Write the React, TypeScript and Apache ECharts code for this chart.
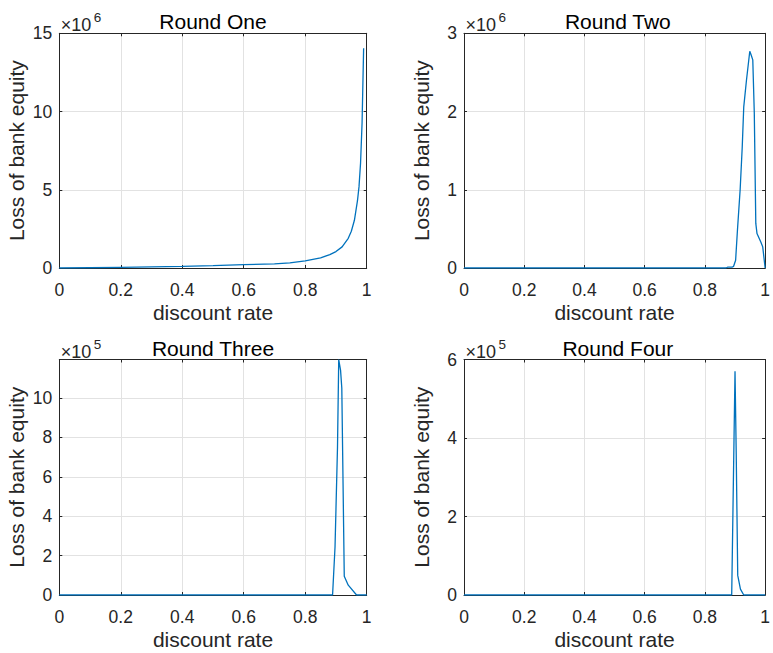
import React, { useEffect, useRef } from "react";
import * as echarts from "echarts";

// Discount rate (x) and loss of bank equity (y, in units of the panel's ×10^n factor)
const round1Rate = [0, 0.1, 0.2, 0.3, 0.4, 0.5, 0.6, 0.7, 0.75, 0.8, 0.85, 0.88, 0.9, 0.92, 0.94, 0.95, 0.96, 0.97, 0.975, 0.98, 0.985, 0.99];
const round1Loss = [0, 0.015, 0.04, 0.07, 0.1, 0.15, 0.21, 0.27, 0.33, 0.45, 0.65, 0.86, 1.05, 1.35, 1.9, 2.35, 3.05, 4.3, 5.2, 6.7, 9.3, 14.05];

const round2Rate = [0, 0.87, 0.875, 0.89, 0.895, 0.902, 0.908, 0.917, 0.924, 0.929, 0.938, 0.949, 0.953, 0.959, 0.964, 0.969, 0.973, 0.986, 0.992, 1.0];
const round2Loss = [0, 0, 0.01, 0.01, 0.02, 0.1, 0.48, 1.0, 1.55, 2.06, 2.4, 2.77, 2.73, 2.66, 1.98, 0.57, 0.44, 0.33, 0.27, 0];

const round3Rate = [0, 0.889, 0.897, 0.905, 0.909, 0.915, 0.919, 0.927, 0.94, 0.967, 1.0];
const round3Loss = [0, 0, 2.45, 7.5, 11.95, 11.4, 10.5, 0.95, 0.5, 0, 0];

const round4Rate = [0, 0.889, 0.9, 0.904, 0.909, 0.918, 0.929, 1.0];
const round4Loss = [0, 0, 5.7, 3.6, 0.5, 0.15, 0, 0];

const titles = ["Round One", "Round Two", "Round Three", "Round Four"];
const exponents = ["6", "6", "5", "5"];
const yMaxes = [15, 3, 11.95, 6];
const yIntervals = [5, 1, 2, 2];

const rates = [round1Rate, round2Rate, round3Rate, round4Rate];
const losses = [round1Loss, round2Loss, round3Loss, round4Loss];

const xLabel = "discount rate";
const yLabel = "Loss of bank equity";

// Panel boxes in pixels
const layout = [
  { left: 59.3, top: 33.3, width: 307.4, height: 234.7 },
  { left: 464, top: 33.3, width: 307.7, height: 234.7 },
  { left: 59.3, top: 359.5, width: 307.4, height: 235.5 },
  { left: 464, top: 359.5, width: 307.7, height: 235.5 },
];

const FONT = "'Liberation Sans', Arial, Helvetica, sans-serif";
const INK = "#262626";
const GRID = "#e2e2e2";
const LINE = "#0072BD";

export default function App() {
  const ref = useRef<HTMLDivElement>(null);

  useEffect(() => {
    if (!ref.current) return;
    const chart = echarts.init(ref.current, undefined, { renderer: "svg" });

    const grids: any[] = [];
    const xAxes: any[] = [];
    const yAxes: any[] = [];
    const series: any[] = [];
    const graphics: any[] = [];

    layout.forEach((box, i) => {
      grids.push({ left: box.left, top: box.top, width: box.width, height: box.height, containLabel: false });

      const lineStyle = { color: INK, width: 1 };
      const tick = { show: true, inside: true, length: 3, lineStyle: { color: INK, width: 1 } };

      xAxes.push({
        type: "value",
        gridIndex: i,
        position: "bottom",
        min: 0,
        max: 1,
        interval: 0.2,
        axisLine: { show: true, onZero: false, lineStyle },
        axisTick: tick,
        axisLabel: { color: INK, fontSize: 17.5, fontFamily: FONT, margin: 13 },
        splitLine: { show: true, lineStyle: { color: GRID, width: 1 } },
        name: xLabel,
        nameLocation: "middle",
        nameGap: 34,
        nameTextStyle: { color: INK, fontSize: 21, fontFamily: FONT },
      });
      xAxes.push({
        type: "value",
        gridIndex: i,
        position: "top",
        min: 0,
        max: 1,
        interval: 0.2,
        axisLine: { show: true, onZero: false, lineStyle },
        axisTick: tick,
        axisLabel: { show: false },
        splitLine: { show: false },
      });

      yAxes.push({
        type: "value",
        gridIndex: i,
        position: "left",
        min: 0,
        max: yMaxes[i],
        interval: yIntervals[i],
        axisLine: { show: true, onZero: false, lineStyle },
        axisTick: tick,
        axisLabel: {
          color: INK,
          fontSize: 17.5,
          fontFamily: FONT,
          margin: 7,
          showMaxLabel: yMaxes[i] % yIntervals[i] === 0,
        },
        splitLine: { show: true, lineStyle: { color: GRID, width: 1 } },
        name: yLabel,
        nameLocation: "middle",
        nameGap: 32,
        nameTextStyle: { color: INK, fontSize: 21, fontFamily: FONT },
      });
      yAxes.push({
        type: "value",
        gridIndex: i,
        position: "right",
        min: 0,
        max: yMaxes[i],
        interval: yIntervals[i],
        axisLine: { show: true, onZero: false, lineStyle },
        axisTick: tick,
        axisLabel: { show: false },
        splitLine: { show: false },
      });

      series.push({
        type: "line",
        xAxisIndex: 2 * i,
        yAxisIndex: 2 * i,
        data: rates[i].map((r, k) => [r, losses[i][k]]),
        showSymbol: false,
        symbol: "none",
        lineStyle: { color: LINE, width: 1.3 },
        clip: true,
        silent: true,
      });

      // Panel title
      graphics.push({
        type: "text",
        x: box.left + box.width / 2,
        y: box.top - 11.5,
        style: {
          text: titles[i],
          fill: "#000",
          fontSize: 21,
          fontFamily: FONT,
          align: "center",
          verticalAlign: "middle",
        },
      });
      // ×10^n multiplier
      graphics.push({
        type: "text",
        x: box.left + 1.5,
        y: box.top - 8,
        style: {
          text: "×10",
          fill: INK,
          fontSize: 18,
          fontFamily: FONT,
          align: "left",
          verticalAlign: "middle",
        },
      });
      graphics.push({
        type: "text",
        x: box.left + 34.5,
        y: box.top - 15.5,
        style: {
          text: exponents[i],
          fill: INK,
          fontSize: 13.5,
          fontFamily: FONT,
          align: "left",
          verticalAlign: "middle",
        },
      });
    });

    chart.setOption({
      animation: false,
      backgroundColor: "#ffffff",
      grid: grids,
      xAxis: xAxes,
      yAxis: yAxes,
      series,
      graphic: graphics,
    });

    return () => {
      chart.dispose();
    };
  }, []);

  return (
    <div
      ref={ref}
      style={{ position: "fixed", left: 0, top: 0, width: 773, height: 653, background: "#fff" }}
    />
  );
}
